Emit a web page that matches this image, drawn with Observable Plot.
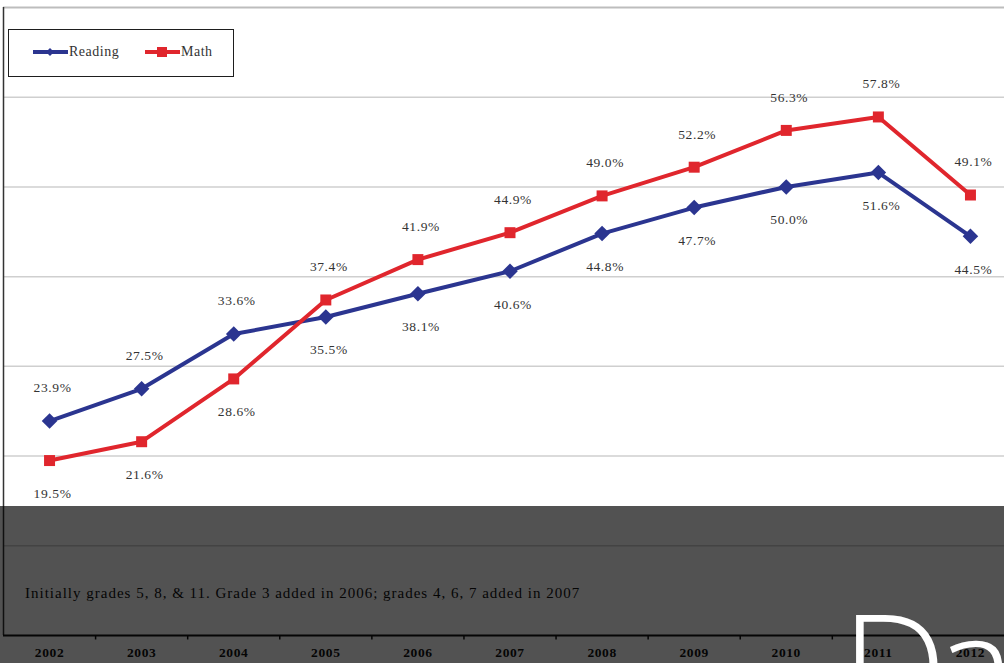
<!DOCTYPE html>
<html>
<head>
<meta charset="utf-8">
<script src="https://cdn.jsdelivr.net/npm/d3@7"></script>
<script src="https://cdn.jsdelivr.net/npm/@observablehq/plot@0.6"></script>
<style>
  html, body { margin: 0; padding: 0; background: #fff; overflow: hidden; }
  #wrap { position: relative; width: 1004px; height: 663px; overflow: hidden; }
  #chart { position: absolute; left: 0; top: 0; width: 1016px; }
  #chart svg { max-width: none !important; }
  #chart svg text { letter-spacing: 0.6px; }
  #legend { position: absolute; left: 8px; top: 29px; width: 224px; height: 46px;
    border: 1.5px solid #1e1e1e; font-family: "Liberation Serif", serif; font-size: 14px; letter-spacing: 0.5px; color: #333; }
  #legend .item { position: absolute; top: 14px; display: flex; align-items: center; }
  #caption { position: absolute; left: 25px; top: 585px; font-family: "Liberation Serif", serif;
    font-size: 15px; letter-spacing: 1px; color: #111; white-space: nowrap; }
  #overlay { position: absolute; left: 0; top: 506px; width: 1004px; height: 157px; background: rgba(0,0,0,0.68); }
  #da { position: absolute; left: 841px; top: 589px; font-family: "Open Sans", sans-serif; font-weight: 300;
    font-size: 150px; line-height: 1; letter-spacing: -12px; color: #fff; white-space: nowrap; }
</style>
</head>
<body>
<div id="wrap">
  <div id="chart"></div>
  <div id="legend"></div>
  <div id="caption"></div>
  <div id="overlay"></div>
  <div id="da">Da</div>
</div>
<script>
const years = [2002, 2003, 2004, 2005, 2006, 2007, 2008, 2009, 2010, 2011, 2012];
const reading = [23.9, 27.5, 33.6, 35.5, 38.1, 40.6, 44.8, 47.7, 50.0, 51.6, 44.5];
const math = [19.5, 21.6, 28.6, 37.4, 41.9, 44.9, 49.0, 52.2, 56.3, 57.8, 49.1];
const seriesNames = ["Reading", "Math"];
const seriesColors = ["#2b3590", "#e0262d"];
const gridValues = [10, 20, 30, 40, 50, 60];
const captionText = "Initially grades 5, 8, & 11. Grade 3 added in 2006; grades 4, 6, 7 added in 2007";

const rows = [];
years.forEach((y, i) => {
  rows.push({year: y, value: reading[i], series: "Reading", above: reading[i] >= math[i]});
  rows.push({year: y, value: math[i], series: "Math", above: math[i] > reading[i]});
});
const readRows = rows.filter(d => d.series === "Reading");
const mathRows = rows.filter(d => d.series === "Math");
const boundaries = years.slice(0, -1).map(y => y + 0.5);

const plot = Plot.plot({
  width: 1016,
  height: 663,
  marginLeft: 3,
  marginRight: 0,
  marginTop: 7,
  marginBottom: 28,
  x: {domain: [years[0] - 0.5, years[years.length - 1] + 0.5]},
  y: {domain: [0, 70], axis: null},
  style: {fontFamily: "Liberation Serif, serif", background: "transparent", maxWidth: "none"},
  marks: [
    Plot.ruleY(gridValues, {stroke: "#cfcfcf", strokeWidth: 1.5}),
    Plot.ruleY([70], {stroke: "#bdbdbd", strokeWidth: 2}),
    Plot.ruleX([years[0] - 0.5], {stroke: "#333", strokeWidth: 1.5}),
    Plot.line(readRows, {x: "year", y: "value", stroke: seriesColors[0], strokeWidth: 4}),
    Plot.line(mathRows, {x: "year", y: "value", stroke: seriesColors[1], strokeWidth: 4}),
    Plot.dot(readRows, {x: "year", y: "value", symbol: "diamond2", r: 7, fill: seriesColors[0], stroke: "none"}),
    Plot.dot(mathRows, {x: "year", y: "value", symbol: "square", r: 6.2, fill: seriesColors[1], stroke: "none"}),
    Plot.text(rows.filter(d => d.above), {x: "year", y: "value", text: d => d.value.toFixed(1) + "%",
      dy: -33, dx: 3, fontSize: 13.5, fill: "#333"}),
    Plot.text(rows.filter(d => !d.above), {x: "year", y: "value", text: d => d.value.toFixed(1) + "%",
      dy: 33, dx: 3, fontSize: 13.5, fill: "#333"}),
    Plot.ruleY([0], {stroke: "#111", strokeWidth: 2}),
    Plot.ruleX(boundaries, {x: d => d, y1: 0, y2: -0.5, stroke: "#111", strokeWidth: 1.5}),
    Plot.axisX({ticks: years, tickSize: 0, tickPadding: 12, tickFormat: d => String(d),
      fontSize: 13.5, fontWeight: "bold", fill: "#111", label: null})
  ]
});
document.getElementById("chart").appendChild(plot);

// legend
const legend = document.getElementById("legend");
const legendLefts = [24, 136];
const legendSymbols = ["diamond", "square"];
seriesNames.forEach((name, i) => {
  const item = document.createElement("div");
  item.className = "item";
  item.style.left = legendLefts[i] + "px";
  const c = seriesColors[i];
  const shape = legendSymbols[i] === "diamond"
    ? `<path d="M17,3 L21,7 L17,11 L13,7 Z" fill="${c}"/>`
    : `<rect x="12" y="2" width="10" height="10" fill="${c}"/>`;
  item.innerHTML = `<svg width="35" height="14"><line x1="0" y1="7" x2="35" y2="7" stroke="${c}" stroke-width="4"/>${shape}</svg><span style="margin-left:1px">${name}</span>`;
  legend.appendChild(item);
});
document.getElementById("caption").textContent = captionText;
</script>
</body>
</html>
